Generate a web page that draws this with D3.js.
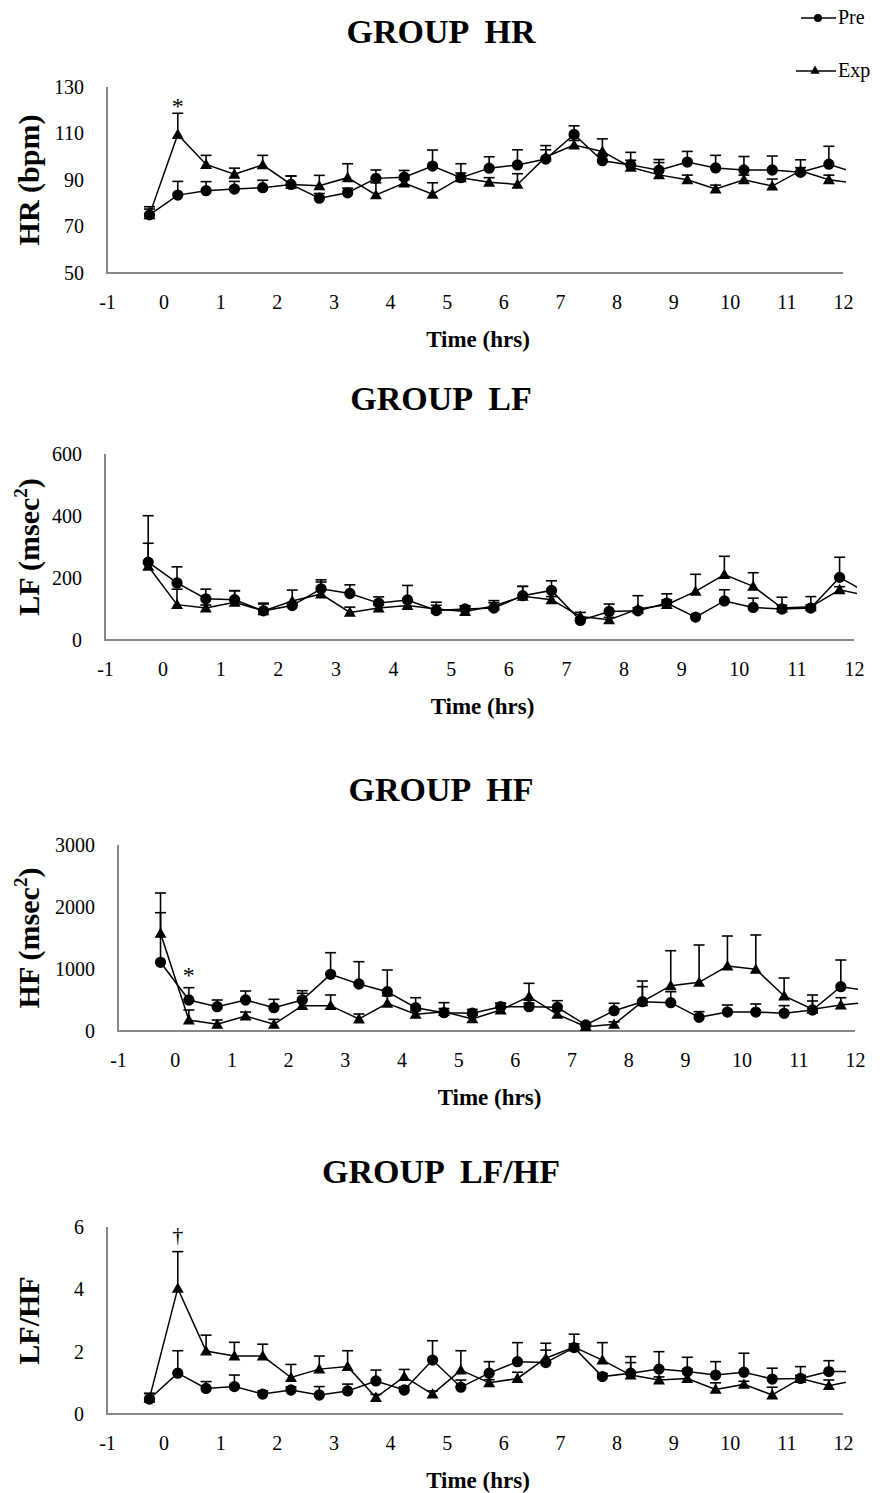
<!DOCTYPE html>
<html>
<head>
<meta charset="utf-8">
<script src="https://cdn.jsdelivr.net/npm/d3@7"></script>
<style>
  body { margin: 0; background: #fff; }
  svg { display: block; font-family: "Liberation Serif", "Times New Roman", serif; }
</style>
</head>
<body>
<svg id="chart" width="880" height="1493"></svg>
<script>
// Sampling times (hours relative to dosing); the last sample sits just past the plotted window
const hours = [-0.25, 0.25, 0.75, 1.25, 1.75, 2.25, 2.75, 3.25, 3.75, 4.25, 4.75, 5.25, 5.75,
               6.25, 6.75, 7.25, 7.75, 8.25, 8.75, 9.25, 9.75, 10.25, 10.75, 11.25, 11.75, 12.25];
const xTicks = [-1, 0, 1, 2, 3, 4, 5, 6, 7, 8, 9, 10, 11, 12];

// Heart rate (bpm): means and upper error (SEM)
const hrPre    = [75, 83.5, 85.4, 86.1, 86.7, 88.1, 82.2, 84.5, 90.7, 91.2, 96.0, 91.0, 95.1,
                  96.5, 99.0, 109.6, 98.3, 96.5, 94.2, 97.7, 95.2, 94.3, 94.3, 93.3, 96.8, 92.8];
const hrPreErr = [2.5, 5.9, 3.9, 3.3, 3.2, 3.6, 2, 2, 3.6, 2.9, 6.9, 6.0, 4.9,
                  6.5, 5.8, 3.7, 2, 5.4, 4.6, 4.6, 5.4, 5.8, 6.0, 2, 7.7, 0];
const hrExp    = [75, 109.6, 96.7, 92.5, 96.5, 88.1, 87.5, 91.0, 83.6, 88.7, 83.9, 91.0, 89.0,
                  88.1, 99.9, 105.0, 102.3, 95.5, 92.2, 90.1, 86.1, 90.1, 87.4, 94.0, 90.1, 88.5];
const hrExpErr = [3.5, 9.1, 3.9, 2.6, 4.1, 3.6, 4.5, 6.0, 5.2, 1.5, 4.9, 2, 2,
                  4.6, 3.1, 2, 5.4, 3, 5.3, 2, 1.7, 2, 3, 4.7, 2, 0];

// Low-frequency power (msec^2)
const lfPre    = [251, 184, 133, 130, 94, 111, 165, 150, 119, 129, 95, 100, 103,
                  143, 160, 63, 92, 94, 119, 74, 126, 105, 100, 103, 202, 150];
const lfPreErr = [150, 52, 31, 29, 25, 10, 29, 28, 20, 47, 27, 10, 17,
                  30, 31, 8, 24, 10, 10, 5, 36, 30, 12, 10, 65, 0];
const lfExp    = [238, 114, 103, 122, 94, 126, 148, 89, 103, 111, 100, 92, 110,
                  141, 130, 76, 65, 100, 114, 157, 211, 173, 103, 107, 162, 142];
const lfExpErr = [74, 50, 10, 37, 22, 35, 39, 17, 10, 15, 12, 18, 17,
                  32, 10, 13, 8, 43, 35, 55, 59, 44, 35, 33, 10, 0];

// High-frequency power (msec^2)
const hfPre    = [1108, 500, 392, 500, 376, 500, 914, 758, 634, 376, 295, 288, 392,
                  392, 382, 97, 328, 473, 457, 220, 306, 306, 285, 339, 715, 647];
const hfPreErr = [800, 199, 108, 145, 135, 150, 349, 360, 350, 161, 162, 60, 55,
                  60, 107, 30, 119, 242, 177, 92, 113, 130, 124, 145, 430, 0];
const hfExp    = [1576, 177, 108, 242, 108, 409, 409, 194, 447, 269, 312, 195, 339,
                  554, 269, 70, 108, 473, 731, 785, 1048, 995, 565, 350, 419, 469];
const hfExpErr = [650, 162, 69, 64, 80, 199, 172, 80, 120, 60, 50, 60, 108,
                  215, 60, 30, 40, 333, 564, 602, 484, 554, 290, 231, 118, 0];

// LF/HF ratio
const ratioPre    = [0.48, 1.31, 0.82, 0.88, 0.64, 0.77, 0.61, 0.74, 1.06, 0.77, 1.73, 0.86, 1.31,
                     1.68, 1.65, 2.13, 1.20, 1.31, 1.44, 1.36, 1.25, 1.34, 1.12, 1.14, 1.36, 1.36];
const ratioPreErr = [0.18, 0.72, 0.22, 0.37, 0.10, 0.10, 0.27, 0.22, 0.35, 0.10, 0.62, 0.23, 0.37,
                     0.61, 0.40, 0.43, 0.10, 0.53, 0.56, 0.46, 0.43, 0.61, 0.35, 0.10, 0.35, 0];
const ratioExp    = [0.50, 4.03, 2.02, 1.86, 1.86, 1.17, 1.44, 1.52, 0.53, 1.20, 0.64, 1.41, 1.00,
                     1.14, 1.79, 2.15, 1.73, 1.25, 1.09, 1.14, 0.79, 0.95, 0.61, 1.14, 0.91, 1.09];
const ratioExpErr = [0.16, 1.18, 0.51, 0.44, 0.38, 0.42, 0.42, 0.51, 0.10, 0.23, 0.10, 0.62, 0.10,
                     0.20, 0.48, 0.10, 0.56, 0.40, 0.10, 0.30, 0.21, 0.10, 0.25, 0.38, 0.18, 0];

const hrTicks = [50, 70, 90, 110, 130];
const lfTicks = [0, 200, 400, 600];
const hfTicks = [0, 1000, 2000, 3000];
const ratioTicks = [0, 2, 4, 6];

const seriesNames = ["Pre", "Exp"];

const panels = [
  { title: "GROUP  HR", label: ["HR (bpm)"], ticks: hrTicks,
    pre: hrPre, preErr: hrPreErr, exp: hrExp, expErr: hrExpErr,
    note: { text: "*", series: "exp", index: 1, dy: 1, size: 24 },
    box: { left: 107, right: 843, top: 87, bottom: 273 } },
  { title: "GROUP  LF", label: ["LF (msec", "2", ")"], ticks: lfTicks,
    pre: lfPre, preErr: lfPreErr, exp: lfExp, expErr: lfExpErr,
    note: null,
    box: { left: 105, right: 854, top: 454, bottom: 640 } },
  { title: "GROUP  HF", label: ["HF (msec", "2", ")"], ticks: hfTicks,
    pre: hfPre, preErr: hfPreErr, exp: hfExp, expErr: hfExpErr,
    note: { text: "*", series: "pre", index: 1, dy: -5, size: 24 },
    box: { left: 118, right: 855, top: 845, bottom: 1031 } },
  { title: "GROUP  LF/HF", label: ["LF/HF"], ticks: ratioTicks,
    pre: ratioPre, preErr: ratioPreErr, exp: ratioExp, expErr: ratioExpErr,
    note: { text: "\u2020", series: "exp", index: 1, dy: -10, size: 22 },
    box: { left: 107, right: 843, top: 1227, bottom: 1414 } }
];

const svg = d3.select("#chart");
svg.append("rect").attr("width", 880).attr("height", 1493).attr("fill", "#fff");

const axisGrey = "#878787";
const circleSym = d3.symbol().type(d3.symbolCircle).size(100);
const triangleSym = d3.symbol().type(d3.symbolTriangle).size(62);
const plainNum = d => String(d);   // keep an ASCII hyphen for negatives

panels.forEach((p, pi) => {
  const b = p.box;
  const x = d3.scaleLinear().domain([-1, 12]).range([b.left, b.right]);
  const y = d3.scaleLinear().domain([p.ticks[0], p.ticks[p.ticks.length - 1]]).range([b.bottom, b.top]);
  const g = svg.append("g");

  // Panel title
  g.append("text")
    .attr("x", 441).attr("y", b.top - 44)
    .attr("text-anchor", "middle")
    .style("white-space", "pre")
    .attr("font-size", 34).attr("font-weight", "bold")
    .text(p.title);

  // Y axis title (rotated), with optional superscript
  const lab = g.append("text")
    .attr("transform", `translate(39,${(b.top + b.bottom) / 2}) rotate(-90)`)
    .attr("text-anchor", "middle")
    .attr("font-size", 30).attr("font-weight", "bold");
  lab.append("tspan").text(p.label[0]);
  if (p.label.length > 1) {
    lab.append("tspan").attr("font-size", 19).attr("dy", -12).text(p.label[1]);
    lab.append("tspan").attr("dy", 12).text(p.label[2]);
  }

  // X axis title
  g.append("text")
    .attr("x", (b.left + b.right) / 2 + 3).attr("y", b.bottom + 74)
    .attr("text-anchor", "middle")
    .attr("font-size", 23).attr("font-weight", "bold")
    .text("Time (hrs)");

  // Axes: tick labels only, plain grey spines
  const yAxis = g.append("g").attr("transform", `translate(${b.left},0)`)
    .call(d3.axisLeft(y).tickValues(p.ticks).tickSize(0).tickPadding(23).tickFormat(plainNum));
  yAxis.attr("font-family", null).attr("font-size", null);
  yAxis.select(".domain").remove();
  yAxis.selectAll("text").attr("font-size", 20).attr("fill", "#000");

  const xAxis = g.append("g").attr("transform", `translate(0,${b.bottom})`)
    .call(d3.axisBottom(x).tickValues(xTicks).tickSize(0).tickPadding(22).tickFormat(plainNum));
  xAxis.attr("font-family", null).attr("font-size", null);
  xAxis.select(".domain").remove();
  xAxis.selectAll("text").attr("font-size", 20).attr("fill", "#000");

  g.append("line").attr("x1", b.left).attr("x2", b.left).attr("y1", b.top).attr("y2", b.bottom + 1)
    .attr("stroke", axisGrey).attr("stroke-width", 2);
  g.append("line").attr("x1", b.left - 1).attr("x2", b.right).attr("y1", b.bottom).attr("y2", b.bottom)
    .attr("stroke", axisGrey).attr("stroke-width", 2);

  // Clip the data to the plotted time window
  const clipId = "clip" + pi;
  svg.append("clipPath").attr("id", clipId)
    .append("rect").attr("x", b.left).attr("y", 0).attr("width", b.right - b.left + 3).attr("height", 1493);
  const plot = g.append("g").attr("clip-path", `url(#${clipId})`);

  const series = [
    { name: "pre", vals: p.pre, err: p.preErr, sym: circleSym },
    { name: "exp", vals: p.exp, err: p.expErr, sym: triangleSym }
  ];

  const line = d3.line().x((d, i) => x(hours[i])).y(d => y(d));

  series.forEach(s => {
    const pts = s.vals.map((v, i) => ({ t: hours[i], v: v, e: s.err[i] }));
    // Upper error bars
    const eb = plot.append("g").attr("stroke", "#000").attr("stroke-width", 1.6);
    eb.selectAll("line.stem").data(pts.filter(d => d.e > 0)).join("line")
      .attr("x1", d => x(d.t)).attr("x2", d => x(d.t))
      .attr("y1", d => y(d.v)).attr("y2", d => y(d.v + d.e));
    eb.selectAll("line.cap").data(pts.filter(d => d.e > 0)).join("line")
      .attr("x1", d => x(d.t) - 5.5).attr("x2", d => x(d.t) + 5.5)
      .attr("y1", d => y(d.v + d.e)).attr("y2", d => y(d.v + d.e));
    // Connecting line
    plot.append("path").datum(s.vals)
      .attr("d", line).attr("fill", "none").attr("stroke", "#000").attr("stroke-width", 1.5);
    // Markers
    plot.selectAll(null).data(pts).join("path")
      .attr("transform", d => `translate(${x(d.t)},${y(d.v) + (s.name === "exp" ? 1 : 0)})`)
      .attr("d", s.sym).attr("fill", "#000");
  });

  // Significance marker
  if (p.note) {
    const n = p.note;
    const v = n.series === "pre" ? p.pre[n.index] + p.preErr[n.index] : p.exp[n.index] + p.expErr[n.index];
    g.append("text")
      .attr("x", x(hours[n.index])).attr("y", y(v) + n.dy)
      .attr("text-anchor", "middle")
      .attr("font-size", n.size)
      .text(n.text);
  }
});

// Legend
const legend = svg.append("g").attr("font-size", 20);
const legendRows = [
  { name: seriesNames[0], y: 18, sym: d3.symbol().type(d3.symbolCircle).size(50), x1: 801, mx: 818 },
  { name: seriesNames[1], y: 71, sym: d3.symbol().type(d3.symbolTriangle).size(38), x1: 796, mx: 815 }
];
legendRows.forEach(r => {
  legend.append("line").attr("x1", r.x1).attr("x2", 836).attr("y1", r.y).attr("y2", r.y)
    .attr("stroke", "#000").attr("stroke-width", 1.5);
  legend.append("path").attr("transform", `translate(${r.mx},${r.y})`).attr("d", r.sym).attr("fill", "#000");
  legend.append("text").attr("x", 838).attr("y", r.y + 6).text(r.name);
});
</script>
</body>
</html>
